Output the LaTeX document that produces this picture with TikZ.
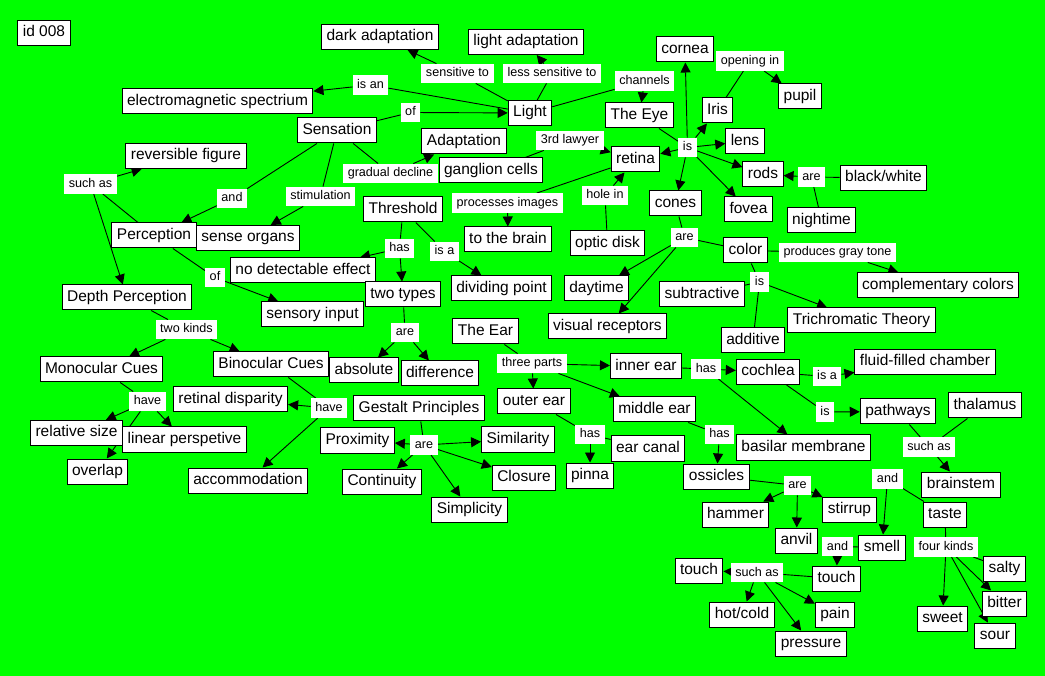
\documentclass[tikz,border=0pt]{standalone}
\usepackage{fontspec}
\setmainfont{Liberation Sans}
\usetikzlibrary{arrows.meta}
\pgfdeclarelayer{bg}
\pgfsetlayers{bg,main}
\definecolor{bggreen}{RGB}{0,255,0}
\tikzset{
 concept/.style={draw=black, fill=white, line width=1pt, font=\fontsize{15.5}{18}\selectfont, inner xsep=5pt, inner ysep=0pt, minimum height=25pt, text height=11.5pt, text depth=3.5pt},
 lab/.style={fill=white, font=\fontsize{12.6}{15}\selectfont, inner xsep=4.5pt, inner ysep=0pt, minimum height=19.5pt, text height=9.5pt, text depth=2.5pt},
 con/.style={line width=0.9pt, draw=black},
 arr/.style={con, -{Triangle[length=10pt,width=10pt]}},
}
\begin{document}
\begin{tikzpicture}[x=1pt,y=-1pt]
\begin{pgfonlayer}{bg}
\fill[bggreen] (0,0) rectangle (1045,676);
\end{pgfonlayer}
\useasboundingbox (0,0) rectangle (1045,676);
% concepts
\node[concept] (id) at (44,33) {id 008};
\node[concept] (dark) at (380,37) {dark adaptation};
\node[concept] (lightad) at (526,42) {light adaptation};
\node[concept] (cornea) at (685,49.5) {cornea};
\node[concept] (pupil) at (800,96.5) {pupil};
\node[concept] (em) at (217.5,101.5) {electromagnetic spectrium};
\node[concept] (light) at (530,113) {Light};
\node[concept] (eye) at (639.5,115.5) {The Eye};
\node[concept] (iris) at (717.5,110.5) {Iris};
\node[concept] (sens) at (337,130.5) {Sensation};
\node[concept] (adapt) at (464,141.5) {Adaptation};
\node[concept] (lens) at (745,141.5) {lens};
\node[concept] (retina) at (635.5,159.5) {retina};
\node[concept] (ganglion) at (491,170.5) {ganglion cells};
\node[concept] (revfig) at (186,156) {reversible figure};
\node[concept] (rods) at (763,174.5) {rods};
\node[concept] (bw) at (883.5,178) {black/white};
\node[concept] (cones) at (675.5,203.5) {cones};
\node[concept] (fovea) at (748.5,209.5) {fovea};
\node[concept] (night) at (821.5,220.5) {nightime};
\node[concept] (thresh) at (403,209.5) {Threshold};
\node[concept] (perc) at (154,235.5) {Perception};
\node[concept] (senseorg) at (248,238) {sense organs};
\node[concept] (brain) at (508,239.5) {to the brain};
\node[concept] (optic) at (607.5,243.5) {optic disk};
\node[concept] (color) at (745.5,250.5) {color};
\node[concept] (nodetect) at (303,270.5) {no detectable effect};
\node[concept] (twotypes) at (403,294.5) {two types};
\node[concept] (divpt) at (501.5,288.5) {dividing point};
\node[concept] (daytime) at (596.5,288.5) {daytime};
\node[concept] (compcol) at (938,285.5) {complementary colors};
\node[concept] (subtr) at (702,294.5) {subtractive};
\node[concept] (depth) at (127,297.5) {Depth Perception};
\node[concept] (sensin) at (312.5,314.5) {sensory input};
\node[concept] (visrec) at (607.5,326.5) {visual receptors};
\node[concept] (trich) at (861.5,320.5) {Trichromatic Theory};
\node[concept] (ear) at (485.5,331.5) {The Ear};
\node[concept] (additive) at (753,340.5) {additive};
\node[concept] (fluid) at (925,362) {fluid-filled chamber};
\node[concept] (mono) at (101.5,369.5) {Monocular Cues};
\node[concept] (bino) at (271,364.5) {Binocular Cues};
\node[concept] (absolute) at (364,370.5) {absolute};
\node[concept] (diff) at (440,373.5) {difference};
\node[concept] (inner) at (646,366.5) {inner ear};
\node[concept] (cochlea) at (768,372) {cochlea};
\node[concept] (retdisp) at (230.5,399.5) {retinal disparity};
\node[concept] (gestalt) at (419,408.5) {Gestalt Principles};
\node[concept] (outer) at (534,401.5) {outer ear};
\node[concept] (middle) at (654.5,409.5) {middle ear};
\node[concept] (pathways) at (898,411.5) {pathways};
\node[concept] (thalamus) at (985,405.5) {thalamus};
\node[concept] (relsize) at (76.5,433) {relative size};
\node[concept] (linper) at (184.5,439.5) {linear perspetive};
\node[concept] (prox) at (357.5,440.5) {Proximity};
\node[concept] (simil) at (518,439.5) {Similarity};
\node[concept] (earcanal) at (648,448.5) {ear canal};
\node[concept] (basilar) at (803.5,447.5) {basilar membrane};
\node[concept] (overlap) at (97.5,471.5) {overlap};
\node[concept] (accom) at (248,480.5) {accommodation};
\node[concept] (contin) at (382,481.5) {Continuity};
\node[concept] (closure) at (524,477.5) {Closure};
\node[concept] (pinna) at (590,475.5) {pinna};
\node[concept] (ossicles) at (716.5,476.5) {ossicles};
\node[concept] (brainstem) at (961,484.5) {brainstem};
\node[concept] (simpl) at (469.5,509.5) {Simplicity};
\node[concept] (hammer) at (735.5,514.5) {hammer};
\node[concept] (stirrup) at (849.5,509.5) {stirrup};
\node[concept] (taste) at (945,514.5) {taste};
\node[concept] (anvil) at (796.5,540.5) {anvil};
\node[concept] (smell) at (882,547.5) {smell};
\node[concept] (touchL) at (699,570.5) {touch};
\node[concept] (touchR) at (836.5,578.5) {touch};
\node[concept] (salty) at (1004.5,568.5) {salty};
\node[concept] (bitter) at (1004.5,603.5) {bitter};
\node[concept] (hotcold) at (742,614.5) {hot/cold};
\node[concept] (pain) at (835,614.5) {pain};
\node[concept] (sweet) at (942.5,618.5) {sweet};
\node[concept] (sour) at (995,635.5) {sour};
\node[concept] (pressure) at (811,643.5) {pressure};
% link labels
\node[lab] (isan) at (370.5,85) {is an};
\node[lab] (sensto) at (457.5,73.5) {sensitive to};
\node[lab] (lesssens) at (552,73.5) {less sensitive to};
\node[lab] (channels) at (644.5,81) {channels};
\node[lab] (opening) at (750,61) {opening in};
\node[lab] (of1) at (410.5,112.5) {of};
\node[lab] (lawyer) at (570,140.5) {3rd lawyer};
\node[lab] (is1) at (687.5,147.5) {is};
\node[lab] (gradual) at (390.5,173.5) {gradual decline};
\node[lab] (suchas1) at (90.5,184) {such as};
\node[lab] (and1) at (232,198.5) {and};
\node[lab] (stim) at (320.5,196.5) {stimulation};
\node[lab] (procimg) at (507.5,203) {processes images};
\node[lab] (holein) at (605,195.5) {hole in};
\node[lab] (are1) at (811.5,177) {are};
\node[lab] (has1) at (399.5,248.5) {has};
\node[lab] (isa1) at (444.5,251.5) {is a};
\node[lab] (are2) at (684.5,237.5) {are};
\node[lab] (prodgray) at (837.5,252.5) {produces gray tone};
\node[lab] (is2) at (759.5,282) {is};
\node[lab] (of2) at (215,277.5) {of};
\node[lab] (twokinds) at (186.5,329.5) {two kinds};
\node[lab] (are3) at (405,332.5) {are};
\node[lab] (threeparts) at (532,363.5) {three parts};
\node[lab] (has2) at (706,369) {has};
\node[lab] (isa2) at (827,376.5) {is a};
\node[lab] (have1) at (147.5,401.5) {have};
\node[lab] (have2) at (329,408) {have};
\node[lab] (is3) at (825,412) {is};
\node[lab] (are4) at (424,445) {are};
\node[lab] (has3) at (590,434.5) {has};
\node[lab] (has4) at (719.5,434.5) {has};
\node[lab] (suchas2) at (929,447) {such as};
\node[lab] (and2) at (887.5,479) {and};
\node[lab] (are5) at (797.5,485.5) {are};
\node[lab] (fourkinds) at (946,547) {four kinds};
\node[lab] (and3) at (837.5,546.5) {and};
\node[lab] (suchas3) at (757,572.5) {such as};
% connectors
\begin{pgfonlayer}{bg}
\draw[con] (light) -- (isan); \draw[arr] (isan) -- (em);
\draw[con] (light) -- (sensto); \draw[arr] (sensto) -- (dark);
\draw[con] (light) -- (lesssens); \draw[arr] (lesssens) -- (lightad);
\draw[con] (light) -- (channels); \draw[arr] (channels) -- (eye);
\draw[con] (sens) -- (of1); \draw[arr] (of1) -- (light);
\draw[con] (iris) -- (opening); \draw[arr] (opening) -- (pupil);
\draw[con] (ganglion) -- (lawyer); \draw[arr] (lawyer) -- (retina);
\draw[con] (eye) -- (is1);
\foreach \t in {cornea,iris,lens,rods,fovea,cones,retina} {\draw[arr] (is1) -- (\t);}
\draw[con] (sens) -- (gradual); \draw[arr] (gradual) -- (adapt);
\draw[con] (sens) -- (and1); \draw[arr] (and1) -- (perc);
\draw[con] (sens) -- (stim); \draw[arr] (stim) -- (senseorg);
\draw[con] (perc) -- (suchas1); \draw[arr] (suchas1) -- (revfig); \draw[arr] (suchas1) -- (depth);
\draw[con] (perc) -- (of2); \draw[arr] (of2) -- (sensin);
\draw[con] (retina) -- (procimg); \draw[arr] (procimg) -- (brain);
\draw[con] (optic) -- (holein); \draw[arr] (holein) -- (retina);
\draw[con] (bw) -- (are1); \draw[con] (night) -- (are1); \draw[arr] (are1) -- (rods);
\draw[con] (thresh) -- (has1); \draw[arr] (has1) -- (nodetect); \draw[arr] (has1) -- (twotypes);
\draw[con] (thresh) -- (isa1); \draw[arr] (isa1) -- (divpt);
\draw[con] (cones) -- (are2); \draw[con] (color) -- (are2); \draw[arr] (are2) -- (daytime); \draw[arr] (are2) -- (visrec);
\draw[con] (color) -- (prodgray); \draw[arr] (prodgray) -- (compcol);
\draw[con] (color) -- (is2); \draw[con] (subtr) -- (is2); \draw[con] (additive) -- (is2); \draw[arr] (is2) -- (trich);
\draw[con] (depth) -- (twokinds); \draw[arr] (twokinds) -- (mono); \draw[arr] (twokinds) -- (bino);
\draw[con] (twotypes) -- (are3); \draw[arr] (are3) -- (absolute); \draw[arr] (are3) -- (diff);
\draw[con] (ear) -- (threeparts); \draw[arr] (threeparts) -- (inner); \draw[arr] (threeparts) -- (outer); \draw[arr] (threeparts) -- (middle);
\draw[con] (inner) -- (has2); \draw[arr] (has2) -- (cochlea); \draw[arr] (has2) -- (basilar);
\draw[con] (cochlea) -- (isa2); \draw[arr] (isa2) -- (fluid);
\draw[con] (mono) -- (have1); \draw[arr] (have1) -- (relsize); \draw[arr] (have1) -- (linper); \draw[arr] (have1) -- (overlap);
\draw[con] (bino) -- (have2); \draw[arr] (have2) -- (retdisp); \draw[arr] (have2) -- (accom);
\draw[con] (cochlea) -- (is3); \draw[arr] (is3) -- (pathways);
\draw[con] (gestalt) -- (are4);
\foreach \t in {prox,simil,contin,closure,simpl} {\draw[arr] (are4) -- (\t);}
\draw[con] (outer) -- (has3); \draw[arr] (has3) -- (pinna); \draw[con] (earcanal) -- (has3);
\draw[con] (middle) -- (has4); \draw[arr] (has4) -- (ossicles);
\draw[con] (pathways) -- (suchas2); \draw[con] (thalamus) -- (suchas2); \draw[arr] (suchas2) -- (brainstem);
\draw[con] (taste) -- (and2); \draw[arr] (and2) -- (smell);
\draw[con] (ossicles) -- (are5); \draw[arr] (are5) -- (hammer); \draw[arr] (are5) -- (stirrup); \draw[arr] (are5) -- (anvil);
\draw[con] (taste) -- (fourkinds); \draw[con] (fourkinds) -- (salty);
\draw[arr] (fourkinds) -- (sweet); \draw[arr] (fourkinds) -- (bitter); \draw[arr] (fourkinds) -- (sour);
\draw[con] (smell) -- (and3); \draw[arr] (and3) -- (touchR);
\draw[con] (touchR) -- (suchas3);
\foreach \t in {touchL,hotcold,pressure,pain} {\draw[arr] (suchas3) -- (\t);}
\end{pgfonlayer}
\end{tikzpicture}
\end{document}
